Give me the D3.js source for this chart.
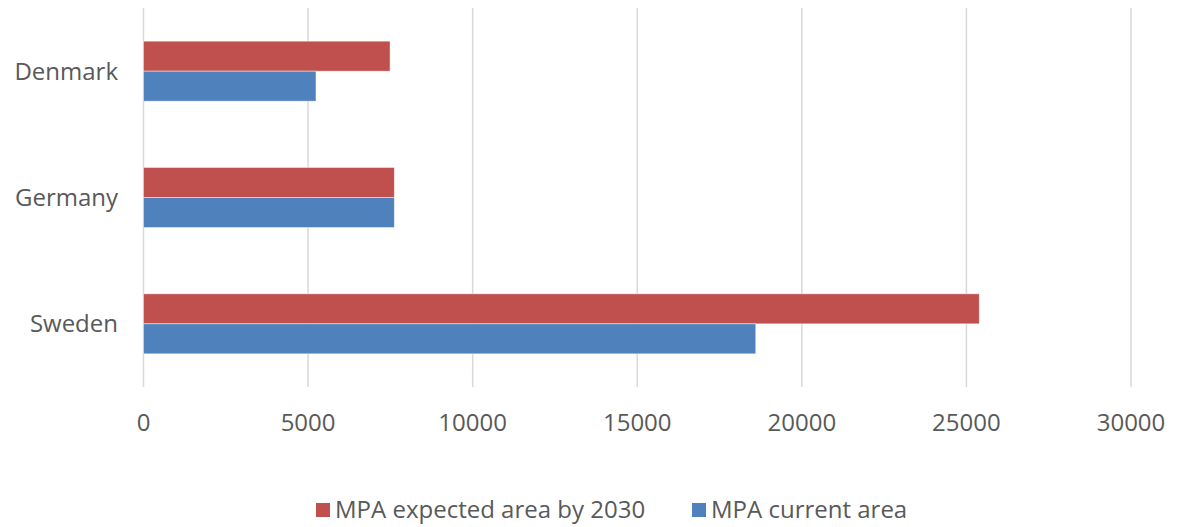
<!DOCTYPE html>
<html>
<head>
<meta charset="utf-8">
<script src="https://cdn.jsdelivr.net/npm/d3@7"></script>
<style>
  body { margin: 0; background: #fff; }
  svg text { font-family: "Open Sans", sans-serif; fill: #595959; }
</style>
</head>
<body>
<svg id="chart" width="1178" height="527"></svg>
<script>
// data
const countries = ['Denmark', 'Germany', 'Sweden'];
const seriesNames = ['MPA expected area by 2030', 'MPA current area'];
const expectedArea = [7490, 7620, 25390];
const currentArea = [5240, 7620, 18600];
const xTicks = [0, 5000, 10000, 15000, 20000, 25000, 30000];
const colors = ['#C0504D', '#4F81BD'];

const plotLeft = 143.5, plotRight = 1131, plotTop = 8, plotBottom = 387;
const fontSize = '24px';

const svg = d3.select('#chart');

const x = d3.scaleLinear().domain([0, 30000]).range([plotLeft, plotRight]);
const y = d3.scaleBand().domain(countries).range([plotTop, plotBottom])
  .paddingInner(0.525).paddingOuter(0.2625);
const ySub = d3.scaleBand().domain(seriesNames).range([0, y.bandwidth()]);

// gridlines
svg.append('g').selectAll('line')
  .data(xTicks)
  .enter().append('line')
  .attr('x1', d => x(d)).attr('x2', d => x(d))
  .attr('y1', plotTop).attr('y2', plotBottom)
  .attr('stroke', '#d9d9d9')
  .attr('stroke-width', 1.5);

// bars
const rows = countries.map((c, i) => ({ country: c, values: [expectedArea[i], currentArea[i]] }));
const groups = svg.append('g').selectAll('g')
  .data(rows)
  .enter().append('g')
  .attr('transform', d => 'translate(0,' + y(d.country) + ')');

groups.selectAll('rect')
  .data(d => d.values.map((v, j) => ({ name: seriesNames[j], value: v, j: j })))
  .enter().append('rect')
  .attr('x', x(0))
  .attr('y', d => ySub(d.name))
  .attr('width', d => x(d.value) - x(0))
  .attr('height', ySub.bandwidth())
  .attr('fill', d => colors[d.j])
  .attr('stroke', 'rgba(255,255,255,0.6)')
  .attr('stroke-width', 0.75);

// y labels
svg.append('g').selectAll('text')
  .data(countries)
  .enter().append('text')
  .attr('x', 118)
  .attr('y', d => y(d) + y.bandwidth() / 2)
  .attr('dy', '0.35em')
  .attr('text-anchor', 'end')
  .style('font-size', fontSize)
  .text(d => d);

// x labels
svg.append('g').selectAll('text')
  .data(xTicks)
  .enter().append('text')
  .attr('x', d => x(d))
  .attr('y', 423)
  .attr('dy', '0.35em')
  .attr('text-anchor', 'middle')
  .style('font-size', fontSize)
  .text(d => d);

// legend
const legendX = [316, 692];
const legend = svg.append('g').selectAll('g')
  .data(seriesNames)
  .enter().append('g')
  .attr('transform', (d, i) => 'translate(' + legendX[i] + ',510)');

legend.append('rect')
  .attr('x', 0).attr('y', -7)
  .attr('width', 14).attr('height', 14)
  .attr('fill', (d, i) => colors[i]);

legend.append('text')
  .attr('x', 19)
  .attr('y', 0)
  .attr('dy', '0.35em')
  .style('font-size', fontSize)
  .text(d => d);
</script>
</body>
</html>
